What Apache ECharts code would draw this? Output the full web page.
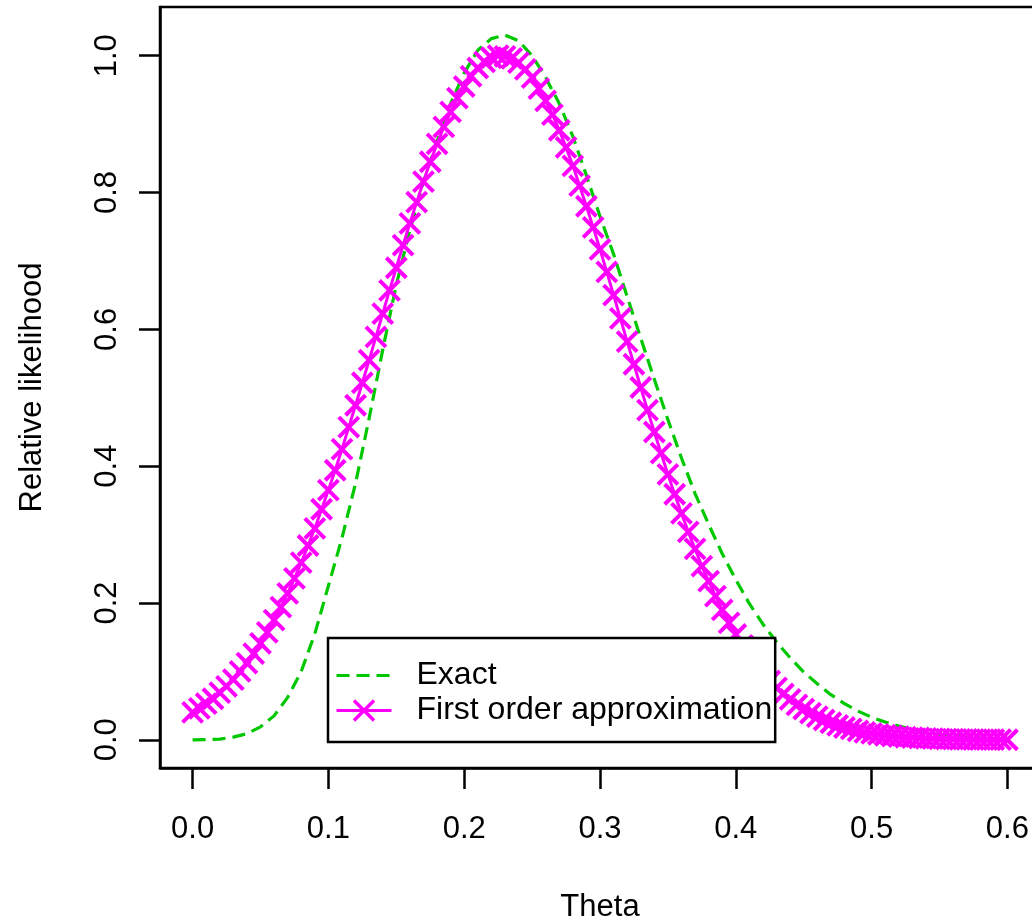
<!DOCTYPE html>
<html><head><meta charset="utf-8">
<script src="https://cdn.jsdelivr.net/npm/echarts@6/dist/echarts.min.js"></script>
<style>html,body{margin:0;padding:0;background:#fff}#c{width:1032px;height:920px}</style>
</head><body><div id="c"></div>
<script>
// theta grid (step 0.01) for the exact curve
var exactTheta = [0,0.01,0.02,0.03,0.04,0.05,0.06,0.07,0.08,0.09,0.10,0.11,0.12,0.13,0.14,0.15,0.16,0.17,0.18,0.19,0.20,0.21,0.22,0.23,0.24,0.25,0.26,0.27,0.28,0.29,0.30,0.31,0.32,0.33,0.34,0.35,0.36,0.37,0.38,0.39,0.40,0.41,0.42,0.43,0.44,0.45,0.46,0.47,0.48,0.49,0.50,0.51,0.52,0.53,0.54,0.55,0.56,0.57,0.58,0.59,0.60];
var exactVals = [0,0.0002,0.001,0.004,0.009,0.019,0.035,0.062,0.10,0.155,0.225,0.295,0.375,0.47,0.57,0.665,0.745,0.815,0.875,0.93,0.975,1.008,1.025,1.03,1.022,1.0,0.968,0.93,0.882,0.825,0.765,0.71,0.648,0.587,0.527,0.468,0.412,0.36,0.315,0.272,0.234,0.199,0.169,0.143,0.12,0.099,0.082,0.066,0.053,0.042,0.033,0.026,0.02,0.015,0.011,0.008,0.006,0.004,0.003,0.002,0.0015];
// theta grid (step 0.005) for the first order approximation
var approxTheta = [0,0.005,0.01,0.015,0.02,0.025,0.03,0.035,0.04,0.045,0.05,0.055,0.06,0.065,0.07,0.075,0.08,0.085,0.09,0.095,0.1,0.105,0.11,0.115,0.12,0.125,0.13,0.135,0.14,0.145,0.15,0.155,0.16,0.165,0.17,0.175,0.18,0.185,0.19,0.195,0.2,0.205,0.21,0.215,0.22,0.225,0.23,0.235,0.24,0.245,0.25,0.255,0.26,0.265,0.27,0.275,0.28,0.285,0.29,0.295,0.3,0.305,0.31,0.315,0.32,0.325,0.33,0.335,0.34,0.345,0.35,0.355,0.36,0.365,0.37,0.375,0.38,0.385,0.39,0.395,0.4,0.405,0.41,0.415,0.42,0.425,0.43,0.435,0.44,0.445,0.45,0.455,0.46,0.465,0.47,0.475,0.48,0.485,0.49,0.495,0.5,0.505,0.51,0.515,0.52,0.525,0.53,0.535,0.54,0.545,0.55,0.555,0.56,0.565,0.57,0.575,0.58,0.585,0.59,0.595,0.6];
var approxVals = [0.040,0.046,0.053,0.060,0.069,0.078,0.088,0.100,0.112,0.126,0.141,0.157,0.175,0.194,0.214,0.236,0.259,0.284,0.309,0.337,0.365,0.394,0.425,0.457,0.489,0.522,0.555,0.589,0.623,0.657,0.690,0.723,0.755,0.786,0.816,0.845,0.871,0.896,0.918,0.938,0.955,0.970,0.982,0.991,0.997,1.000,0.999,0.996,0.990,0.980,0.968,0.952,0.934,0.914,0.891,0.866,0.839,0.810,0.780,0.749,0.717,0.684,0.650,0.616,0.582,0.549,0.515,0.482,0.450,0.419,0.388,0.359,0.331,0.304,0.279,0.254,0.232,0.210,0.190,0.171,0.154,0.138,0.123,0.110,0.098,0.086,0.076,0.067,0.059,0.051,0.045,0.039,0.034,0.029,0.025,0.021,0.018,0.016,0.013,0.011,0.0095,0.008,0.0067,0.0056,0.0046,0.0038,0.0032,0.0026,0.0021,0.0017,0.0014,0.0011,0.0009,0.0007,0.0006,0.0005,0.0004,0.0003,0.0002,0.0002,0.0001];
var xTicks = [0,0.1,0.2,0.3,0.4,0.5,0.6];
var yTicks = [0,0.2,0.4,0.6,0.8,1.0];
var seriesNames = ['Exact','First order approximation'];

function zip(a,b){var r=[];for(var i=0;i<a.length;i++)r.push([a[i],b[i]]);return r;}
var FONT = '"Liberation Sans", Arial, sans-serif';
var GREEN = '#00c800', MAGENTA = '#ff00ff';
var XSYM = 'path://M0,0L10,10M10,0L0,10';
var chart = echarts.init(document.getElementById('c'), null, {renderer:'canvas'});
chart.setOption({
  animation:false,
  backgroundColor:'#fff',
  grid:{left:160,top:7,right:-8,bottom:152,outerBoundsMode:'none',containLabel:false,
    show:true,borderColor:'#000',borderWidth:2.5,backgroundColor:'transparent'},
  legend:{
    left:328, top:638, orient:'vertical',
    data:[
      {name:seriesNames[0], itemStyle:{opacity:0},
        lineStyle:{color:GREEN,width:3,type:[13,7],opacity:1}},
      {name:seriesNames[1], itemStyle:{color:MAGENTA,borderColor:MAGENTA,borderWidth:3.5},
        lineStyle:{color:MAGENTA,width:3,opacity:1}}
    ],
    borderColor:'#000', borderWidth:2.5, backgroundColor:'#fff',
    padding:[20,3,14,7], itemGap:0, itemWidth:55, itemHeight:25,
    textStyle:{fontFamily:FONT,fontSize:32,color:'#000',lineHeight:35,padding:[0,0,0,20]}
  },
  xAxis:{
    type:'value', min:-0.024, max:0.624,
    name:'Theta', nameLocation:'middle', nameGap:124,
    nameTextStyle:{fontFamily:FONT,fontSize:31,color:'#000'},
    axisLine:{show:true,onZero:false,lineStyle:{color:'#000',width:2.5}},
    axisTick:{show:true,length:21,lineStyle:{color:'#000',width:2.5},customValues:xTicks},
    axisLabel:{show:true,margin:46,fontFamily:FONT,fontSize:31,color:'#000',customValues:xTicks,
      formatter:function(v){return v.toFixed(1);}},
    splitLine:{show:false}
  },
  yAxis:{
    type:'value', min:-0.0412, max:1.0712,
    name:'Relative likelihood', nameLocation:'middle', nameGap:112, nameRotate:90,
    nameTextStyle:{fontFamily:FONT,fontSize:31,color:'#000'},
    axisLine:{show:true,onZero:false,lineStyle:{color:'#000',width:2.5}},
    axisTick:{show:true,length:21,lineStyle:{color:'#000',width:2.5},customValues:yTicks},
    axisLabel:{show:true,margin:37,rotate:90,fontFamily:FONT,fontSize:31,color:'#000',customValues:yTicks,
      formatter:function(v){return v.toFixed(1);}},
    splitLine:{show:false}
  },
  series:[
    {name:seriesNames[0],type:'line',data:zip(exactTheta,exactVals),symbol:'none',smooth:false,
      lineStyle:{color:GREEN,width:3.2,type:[13,7]},itemStyle:{color:GREEN},z:2},
    {name:seriesNames[1],type:'line',data:zip(approxTheta,approxVals),
      symbol:XSYM,symbolSize:20,showAllSymbol:true,
      lineStyle:{color:MAGENTA,width:3},
      itemStyle:{color:MAGENTA,borderColor:MAGENTA,borderWidth:4},z:3}
  ]
});
</script></body></html>
